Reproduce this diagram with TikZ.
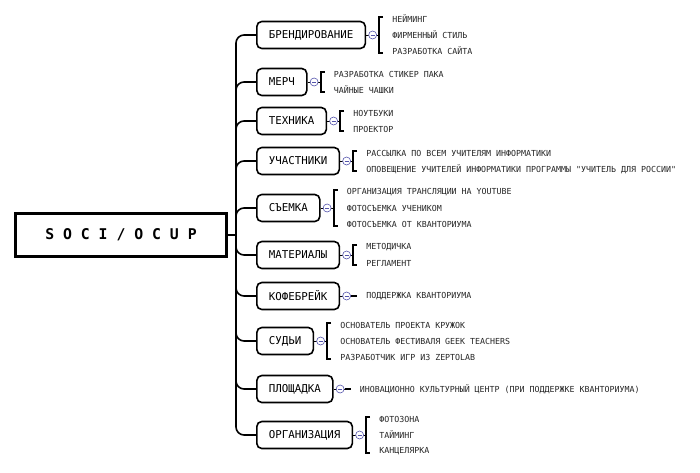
\documentclass[tikz,border=0pt]{standalone}
\usepackage{fontspec}
\usetikzlibrary{calc,positioning}
\newfontfamily\monofam{DejaVu Sans Mono}
\newcommand\catfont{\monofam\fontsize{10.8}{12}\selectfont}
\newcommand\itemfont{\monofam\fontsize{8.3}{10}\selectfont}
\newcommand\rootfont{\monofam\bfseries\fontsize{14.8}{16}\selectfont}
\tikzset{rootbox/.style={draw,line width=3pt,minimum width=211pt,minimum height=43pt,font=\rootfont},
    catbox/.style={draw,line width=1.6pt,rounded corners=5pt,minimum height=27pt,inner xsep=12pt,font=\catfont,anchor=west},
    itemtext/.style={font=\itemfont,text=black!85,anchor=west,inner sep=0pt},
    branchline/.style={line width=1.6pt,rounded corners=8pt},
    bracketline/.style={line width=2.2pt},
    foldmark/.style={circle,draw=blue!35!gray,fill=white,line width=0.6pt,inner sep=0pt,minimum size=8pt}}

\begin{document}
\begin{tikzpicture}[x=1pt,y=-1pt]

\useasboundingbox (0,0) rectangle (700,472);

\node (root) [rootbox] at (121,235) {S O C I / O C U P};
\coordinate (hub) at (236,235);
\draw [line width=1.6pt] (root.east) -- (hub);

\foreach \cat/\ypos/\n/\catlabel/\itemlist in {
    brand/35/3/БРЕНДИРОВАНИЕ/{НЕЙМИНГ,ФИРМЕННЫЙ СТИЛЬ,РАЗРАБОТКА САЙТА},
    merch/82/2/МЕРЧ/{РАЗРАБОТКА СТИКЕР ПАКА,ЧАЙНЫЕ ЧАШКИ},
    tech/121/2/ТЕХНИКА/{НОУТБУКИ,ПРОЕКТОР},
    members/161/2/УЧАСТНИКИ/{РАССЫЛКА ПО ВСЕМ УЧИТЕЛЯМ ИНФОРМАТИКИ,ОПОВЕЩЕНИЕ УЧИТЕЛЕЙ ИНФОРМАТИКИ ПРОГРАММЫ "УЧИТЕЛЬ ДЛЯ РОССИИ"},
    shoot/208/3/СЪЕМКА/{ОРГАНИЗАЦИЯ ТРАНСЛЯЦИИ НА YOUTUBE,ФОТОСЪЕМКА УЧЕНИКОМ,ФОТОСЪЕМКА ОТ КВАНТОРИУМА},
    docs/255/2/МАТЕРИАЛЫ/{МЕТОДИЧКА,РЕГЛАМЕНТ},
    coffee/296/1/КОФЕБРЕЙК/{ПОДДЕРЖКА КВАНТОРИУМА},
    jury/341/3/СУДЬИ/{ОСНОВАТЕЛЬ ПРОЕКТА КРУЖОК,ОСНОВАТЕЛЬ ФЕСТИВАЛЯ GEEK TEACHERS,РАЗРАБОТЧИК ИГР ИЗ ZEPTOLAB},
    venue/389/1/ПЛОЩАДКА/{ИНОВАЦИОННО КУЛЬТУРНЫЙ ЦЕНТР (ПРИ ПОДДЕРЖКЕ КВАНТОРИУМА)},
    org/435/3/ОРГАНИЗАЦИЯ/{ФОТОЗОНА,ТАЙМИНГ,КАНЦЕЛЯРКА}}
{
    \node (\cat) [catbox] at (256,\ypos) {\catlabel};
    \draw [branchline] (hub) |- (\cat.west);

    % items next to the box
    \foreach \entry [count=\i] in \itemlist
        \node (\cat-\i) [itemtext] at ($(\cat.east)+(26,{(\i-(\n+1)/2)*16})$) {\entry};

    \draw [line width=0.8pt] (\cat.east) -- ($(\cat.east)+(13,0)$);
    \ifnum\n>1
        \draw [bracketline] ($(\cat.east)+(17,{-(\n-1)*8-2})$) -- ($(\cat.east)+(13,{-(\n-1)*8-2})$)
            -- ($(\cat.east)+(13,{(\n-1)*8+2})$) -- ($(\cat.east)+(17,{(\n-1)*8+2})$);
    \else
        \draw [bracketline] ($(\cat.east)+(11,0)$) -- ($(\cat.east)+(17,0)$);
    \fi

    \node (\cat-fold) [foldmark] at ($(\cat.east)+(6.5,0)$) {};
    \draw [blue!35!gray,line width=0.6pt] ($(\cat-fold)+(-2,0)$) -- ($(\cat-fold)+(2,0)$);
}

\end{tikzpicture}
\end{document}
